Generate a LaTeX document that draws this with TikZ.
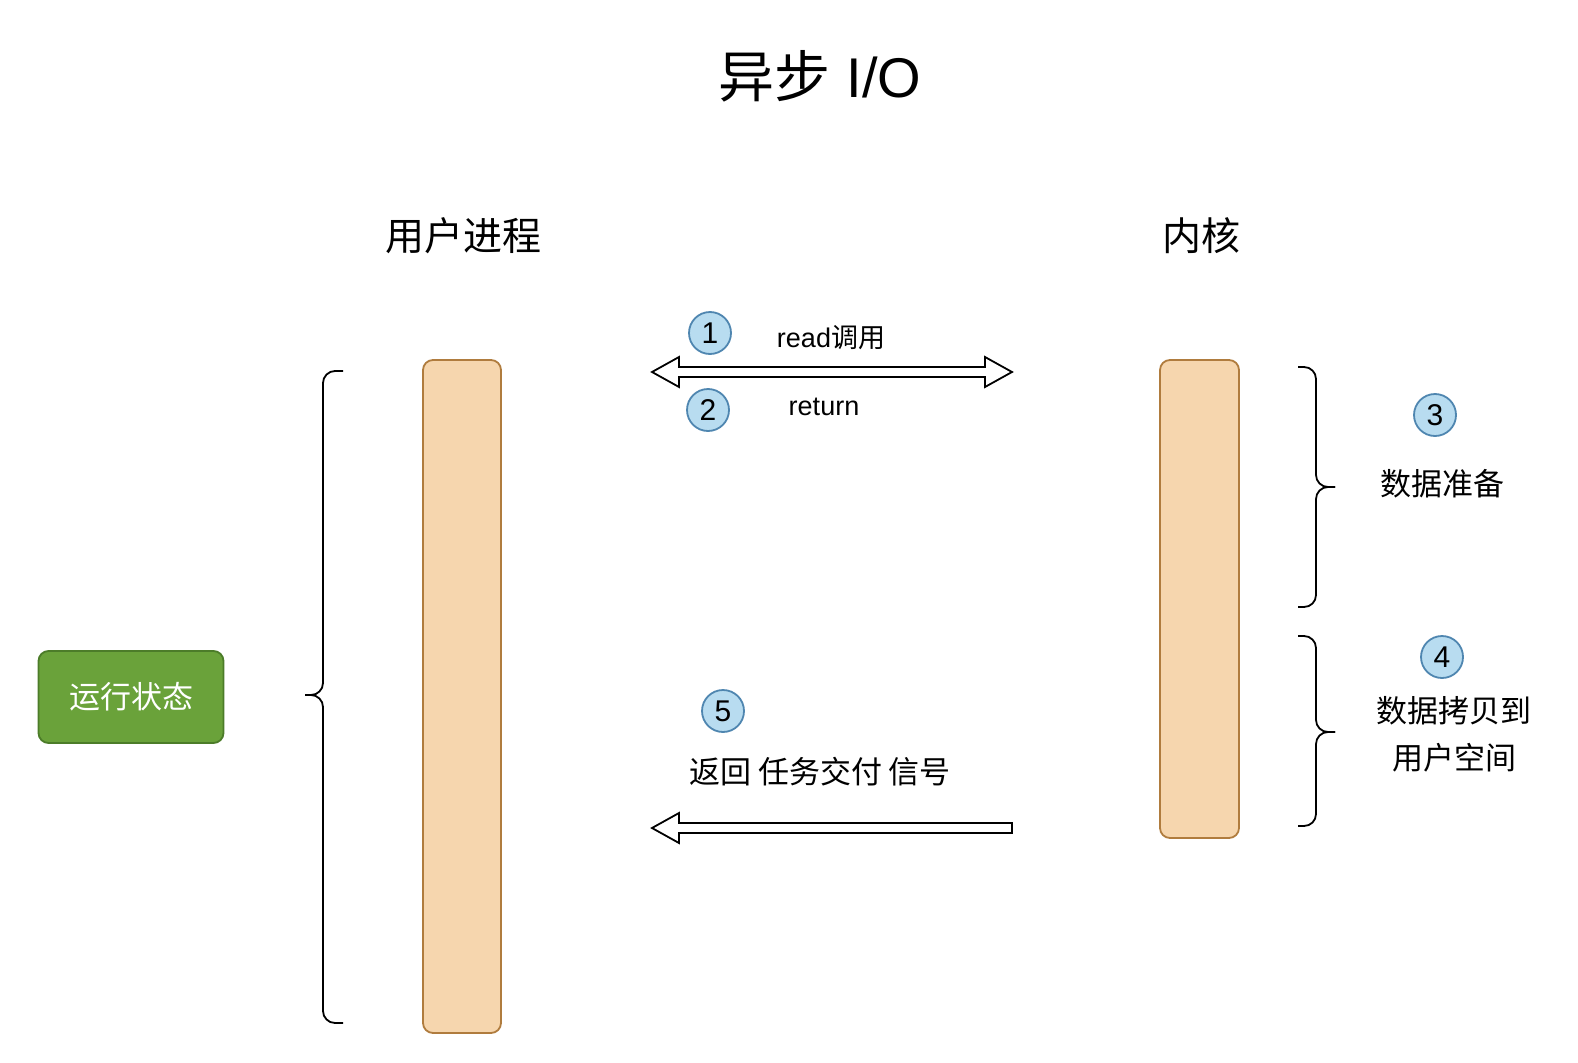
\documentclass[tikz,border=0pt]{standalone}
\usepackage{fontspec}
\setmainfont{Liberation Sans}
\newfontfamily\cjk{Noto Sans CJK SC}
\definecolor{barfill}{HTML}{F6D6AE}
\definecolor{barline}{HTML}{B07C3E}
\definecolor{runfill}{HTML}{6AA23A}
\definecolor{runline}{HTML}{4C7C29}
\definecolor{numfill}{HTML}{B8DCF0}
\definecolor{numline}{HTML}{4F86B0}
\begin{document}
\begin{tikzpicture}[x=1pt, y=-1pt,
    bar/.style={draw=barline, fill=barfill, line width=1.8pt, rounded corners=10pt},
    num/.style={circle, draw=numline, fill=numfill, line width=1.8pt, minimum size=42pt, inner sep=0pt, font=\fontsize{30}{32}\selectfont},
    brace/.style={draw, line width=1.8pt, rounded corners=12pt},
    hollow/.style={draw, line width=1.8pt, fill=white}]
    \useasboundingbox (0,0) rectangle (1578,1062);

    % 标题
    \node (title) at (820,76) {\fontsize{56}{62}\selectfont {\cjk 异步} I/O};
    \node (user) at (463,236) {\fontsize{39}{44}\selectfont\cjk 用户进程};
    \node (kernel) at (1201,236) {\fontsize{39}{44}\selectfont\cjk 内核};

    % 两个竖条
    \draw[bar] (423,360) rectangle (501,1033);
    \draw[bar] (1160,360) rectangle (1239,838);

    % 运行状态
    \node[draw=runline, fill=runfill, line width=1.8pt, rounded corners=10pt,
          minimum width=185pt, minimum height=92pt, text=white,
          font=\fontsize{31}{34}\selectfont\cjk] (run) at (131,697) {运行状态};

    % 左侧大括号
    \draw[brace] (343,371) -- (323,371) -- (323,695) -- (305,695);
    \draw[brace] (343,1023) -- (323,1023) -- (323,695) -- (305,695);

    % 右侧大括号
    \draw[brace] (1298,367) -- (1316,367) -- (1316,487) -- (1335,487);
    \draw[brace] (1298,607) -- (1316,607) -- (1316,487) -- (1335,487);
    \draw[brace] (1298,636) -- (1316,636) -- (1316,732) -- (1335,732);
    \draw[brace] (1298,826) -- (1316,826) -- (1316,732) -- (1335,732);

    % 箭头
    \draw[hollow] (652,372) -- (679,357) -- (679,367) -- (985,367) -- (985,357)
        -- (1012,372) -- (985,387) -- (985,377) -- (679,377) -- (679,387) -- cycle;
    \draw[hollow] (652,828) -- (679,813) -- (679,823) -- (1012,823) -- (1012,833)
        -- (679,833) -- (679,843) -- cycle;

    % 编号与标注
    \node[num] (n1) at (710,333) {1};
    \node[num] (n2) at (708,410) {2};
    \node[num] (n3) at (1435,415) {3};
    \node[num] (n4) at (1442,657) {4};
    \node[num] (n5) at (723,711) {5};

    \node[font=\fontsize{27}{30}\selectfont] (read) at (831,338) {read{\cjk 调用}};
    \node[font=\fontsize{27}{30}\selectfont] (ret) at (824,407) {return};
    \node[font=\fontsize{31}{34}\selectfont\cjk] (signal) at (820,772) {返回 任务交付 信号};
    \node[font=\fontsize{31}{34}\selectfont\cjk] (prep) at (1442,484) {数据准备};
    \node[font=\fontsize{31}{34}\selectfont\cjk] (copy1) at (1454,711) {数据拷贝到};
    \node[font=\fontsize{31}{34}\selectfont\cjk] (copy2) at (1454,758) {用户空间};
\end{tikzpicture}
\end{document}
